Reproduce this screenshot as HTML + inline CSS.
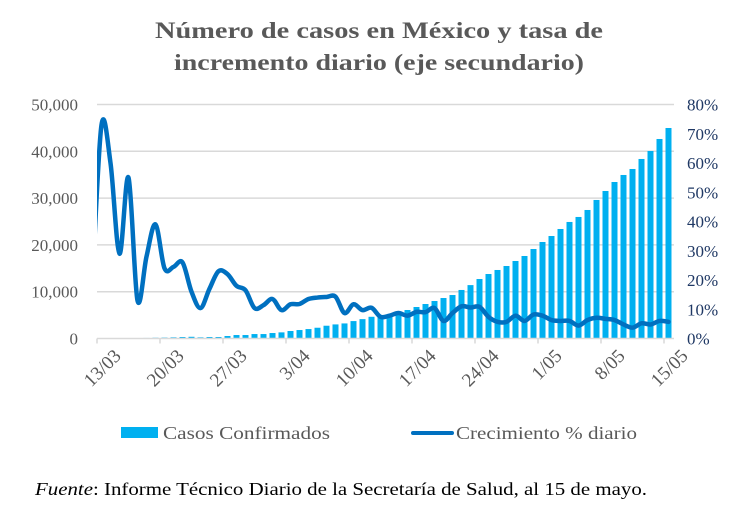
<!DOCTYPE html>
<html><head><meta charset="utf-8">
<style>
html,body{margin:0;padding:0;background:#fff;}
svg{display:block;font-family:"Liberation Serif",serif;}
</style></head>
<body>
<svg id="chart" width="744" height="508" viewBox="0 0 744 508" xmlns="http://www.w3.org/2000/svg">
<text x="379" y="38" text-anchor="middle" font-size="23" font-weight="bold" fill="#595959" textLength="448" lengthAdjust="spacingAndGlyphs">Número de casos en México y tasa de</text>
<text x="379" y="70" text-anchor="middle" font-size="23" font-weight="bold" fill="#595959" textLength="410" lengthAdjust="spacingAndGlyphs">incremento diario (eje secundario)</text>
<g id="grid"></g>
<g id="bars"></g>
<g id="axes"></g>
<defs><clipPath id="plotclip"><rect x="97" y="90" width="580" height="260"/></clipPath></defs>
<path id="line" clip-path="url(#plotclip)" fill="none" stroke="#0070c0" stroke-width="4.5" stroke-linejoin="round" stroke-linecap="round"/>
<g>
<rect x="121" y="427" width="37" height="11" fill="#00b0f0"/>
<text x="163" y="439" font-size="18" fill="#595959" textLength="167" lengthAdjust="spacingAndGlyphs">Casos Confirmados</text>
<line x1="413" y1="433" x2="452" y2="433" stroke="#0070c0" stroke-width="4" stroke-linecap="round"/>
<text x="456" y="439" font-size="18" fill="#595959" textLength="181" lengthAdjust="spacingAndGlyphs">Crecimiento % diario</text>
</g>
<text x="35" y="495" font-size="18" fill="#000" textLength="612" lengthAdjust="spacingAndGlyphs"><tspan font-style="italic">Fuente</tspan>: Informe Técnico Diario de la Secretaría de Salud, al 15 de mayo.</text>
</svg>
<script>
const casos = [26,41,53,82,93,118,164,203,251,316,367,250,320,320,530,740,740,950,950,1170,1310,1600,1810,2020,2300,2730,3010,3220,3720,4140,4640,4860,5020,5600,6090,6730,7370,8010,8650,9290,10370,11410,12710,13780,14640,15490,16560,17630,19120,20620,21900,23400,24900,25970,27460,29600,31520,33440,34940,36220,38360,40070,42630,44980];
const crecimiento = [73,60,29,55,13,28,39,24,24.5,26,16,10.4,17,23,22,18,16.5,10.4,11.4,13.5,9.7,11.7,11.8,13.5,14,14.2,14.3,8.7,11.7,9.7,10.5,7.4,7.8,8.7,7.8,9.1,9,10.4,6,8.7,11,10.6,10.8,7.4,5.7,5.7,7.8,6,8.2,7.8,6.3,6,6,4.4,6.3,7.1,6.7,6.3,4.8,3.7,5.2,4.8,6,5.7];
const crecimientoPrev = 20;
const leftTicks = ["0","10,000","20,000","30,000","40,000","50,000"];
const rightTicks = ["0%","10%","20%","30%","40%","50%","60%","70%","80%"];
const dateLabels = ["13/03","20/03","27/03","3/04","10/04","17/04","24/04","1/05","8/05","15/05"];

const NS="http://www.w3.org/2000/svg";
const X0=97, DAY=9, Y0=338.5, YTOP=104.5;
const yL=v=>Y0-(v/50000)*(Y0-YTOP);
const yR=v=>Y0-(v/80)*(Y0-YTOP);
const xTick=i=>X0+DAY*i;
const xC=i=>X0+DAY*i+DAY/2;
function mk(tag,attrs,parent){const e=document.createElementNS(NS,tag);for(const k in attrs)e.setAttribute(k,attrs[k]);parent.appendChild(e);return e;}
const grid=document.getElementById('grid');
leftTicks.forEach((t,k)=>{
  const y=yL(k*10000);
  if(k>0){const g=mk('line',{x1:X0,x2:674,y1:y,y2:y,stroke:'#d9d9d9','stroke-width':1.5},grid);
  
  }
  const tx=mk('text',{x:78,y:y+6,'text-anchor':'end','font-size':17,fill:'#595959'},grid);
  
  
  tx.textContent=t;
});
rightTicks.forEach((t,k)=>{
  const tx=mk('text',{x:687,y:yR(k*10)+6,'font-size':17,fill:'#1f3864'},grid);
  
  
  tx.textContent=t;
});
const bars=document.getElementById('bars');
casos.forEach((v,i)=>{
  const y=yL(v);
  const r=mk('rect',{x:xC(i)-3,y:y,width:6,height:Math.max(Y0-y,0.5),fill:'#00b0f0'},bars);
  
  
});
const axes=document.getElementById('axes');
const ax=mk('line',{x1:X0,x2:674,y1:Y0,y2:Y0,stroke:'#d9d9d9','stroke-width':1.5},axes);


dateLabels.forEach((d,k)=>{
  const x=xTick(k*7);
  const tk=mk('line',{x1:x,x2:x,y1:Y0,y2:Y0+5,stroke:'#d9d9d9','stroke-width':1.5},axes);
  
  
  const ax_=x+25, ay=357;
  const tx=mk('text',{x:ax_,y:ay,'text-anchor':'end','font-size':19,fill:'#595959',transform:`rotate(-45 ${ax_} ${ay})`},axes);
  
  
  tx.textContent=d;
});
const pts=[[xC(-1),yR(crecimientoPrev)]].concat(crecimiento.map((v,i)=>[xC(i),yR(v)]));
let d=`M${pts[0][0]},${pts[0][1]}`;
for(let i=0;i<pts.length-1;i++){
  const p0=pts[Math.max(i-1,0)],p1=pts[i],p2=pts[i+1],p3=pts[Math.min(i+2,pts.length-1)];
  const t=1/6;
  const c1=[p1[0]+(p2[0]-p0[0])*t,p1[1]+(p2[1]-p0[1])*t];
  const c2=[p2[0]-(p3[0]-p1[0])*t,p2[1]-(p3[1]-p1[1])*t];
  d+=` C${c1[0]},${c1[1]} ${c2[0]},${c2[1]} ${p2[0]},${p2[1]}`;
}
document.getElementById('line').setAttribute('d',d);
</script>
</body></html>
